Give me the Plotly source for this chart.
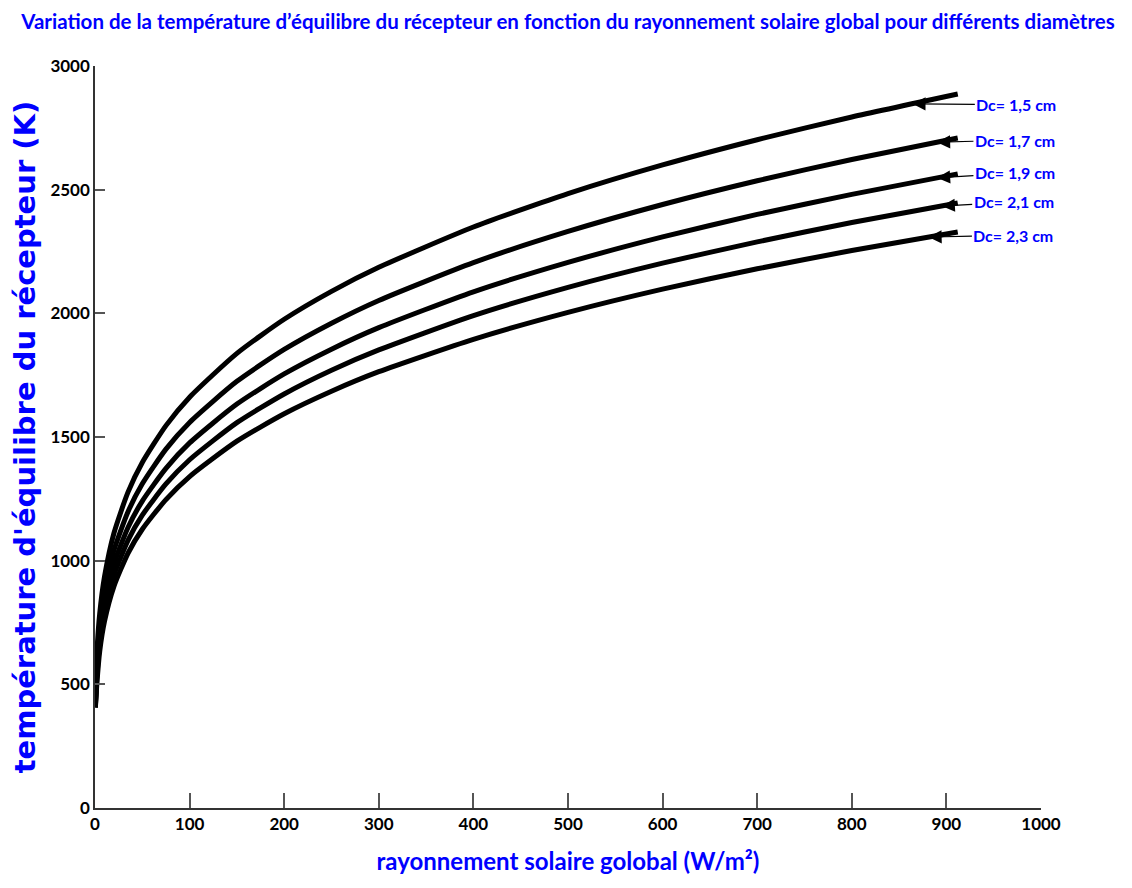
import numpy as np
import plotly.graph_objects as go

# Global solar radiation (W/m²)
G = [0.4, 2, 5, 10, 20, 35, 50, 75, 100, 150, 200, 250, 300, 400, 500, 600, 700, 800, 912]

# Equilibrium temperature of the receiver (K) for each receiver diameter
T_15 = [420, 625, 786, 934, 1111, 1278, 1397, 1546, 1661, 1838, 1976, 2089, 2186, 2349, 2484, 2600, 2702, 2794, 2887]
T_17 = [415, 586, 737, 877, 1042, 1199, 1311, 1451, 1559, 1725, 1854, 1960, 2052, 2205, 2331, 2440, 2536, 2622, 2709]
T_19 = [410, 555, 698, 830, 987, 1135, 1241, 1373, 1476, 1633, 1755, 1855, 1942, 2087, 2206, 2309, 2400, 2481, 2564]
T_21 = [408, 529, 666, 792, 941, 1083, 1184, 1310, 1408, 1558, 1674, 1770, 1852, 1991, 2105, 2203, 2289, 2367, 2446]
T_23 = [405, 504, 634, 754, 896, 1031, 1127, 1247, 1340, 1483, 1594, 1685, 1764, 1895, 2004, 2098, 2180, 2254, 2329]

labels = ["Dc= 1,5 cm", "Dc= 1,7 cm", "Dc= 1,9 cm", "Dc= 2,1 cm", "Dc= 2,3 cm"]
series = [T_15, T_17, T_19, T_21, T_23]
# x position (W/m²) where each label arrow touches its curve
arrow_x = [864, 890, 890, 895, 881]

x_ticks = [0, 100, 200, 300, 400, 500, 600, 700, 800, 900, 1000]
y_ticks = [0, 500, 1000, 1500, 2000, 2500, 3000]

NARROW = "Lato, Roboto, sans-serif"

fig = go.Figure()
for name, T in zip(labels, series):
    fig.add_trace(go.Scatter(
        x=G, y=T, mode="lines", name=name,
        line=dict(color="black", width=5, shape="spline", smoothing=0.6),
        showlegend=False,
    ))

# label offsets in pixels (text centre relative to arrow head)
ax_off = [104, 78, 78, 72, 85]
ay_off = [1, -2, -5, -4, -2]
for name, T, xa, axo, ayo in zip(labels, series, arrow_x, ax_off, ay_off):
    ya = float(np.interp(xa, G, T))
    fig.add_annotation(
        x=xa, y=ya, xref="x", yref="y",
        text="<b>" + name + "</b>",
        showarrow=True, arrowhead=2, arrowsize=2.2, arrowwidth=1.2,
        arrowcolor="black", ax=axo, ay=ayo,
        font=dict(family=NARROW, size=16, color="#0000FF"),
    )

fig.update_layout(
    width=1124, height=880,
    paper_bgcolor="white", plot_bgcolor="white",
    margin=dict(l=87, r=91, t=58, b=80),
    title=dict(
        text="<b>Variation de la température d’équilibre du récepteur en fonction du rayonnement solaire global pour différents diamètres</b>",
        x=0.5, xref="paper", xanchor="center", y=0.984, yanchor="middle",
        font=dict(family=NARROW, size=20.5, color="#0000FF"),
    ),
    xaxis=dict(
        range=[0, 1000], tickvals=x_ticks, ticktext=["<b>%d</b>" % v for v in x_ticks],
        showgrid=False, zeroline=False, showline=True, linecolor="#333333", linewidth=1.5,
        ticks="inside", ticklen=15, tickcolor="#555555", tickwidth=1.5,
        tickfont=dict(family=NARROW, size=17, color="black"),
        title=dict(text="<b>rayonnement solaire golobal (W/m²)</b>", standoff=20,
                   font=dict(family=NARROW, size=24, color="#0000FF")),
    ),
    yaxis=dict(
        range=[0, 3000], tickvals=y_ticks, ticktext=["<b>%d</b>" % v for v in y_ticks],
        showgrid=False, zeroline=False, showline=True, linecolor="#333333", linewidth=1.5,
        ticks="inside", ticklen=10, tickcolor="#555555", tickwidth=1.5,
        tickfont=dict(family=NARROW, size=17, color="black"),
        title=dict(text="<b>température d'équilibre du récepteur (K)</b>", standoff=8,
                   font=dict(family="DejaVu Sans, Verdana, sans-serif", size=29, color="#0000FF")),
    ),
)

fig.write_html("out.html")
